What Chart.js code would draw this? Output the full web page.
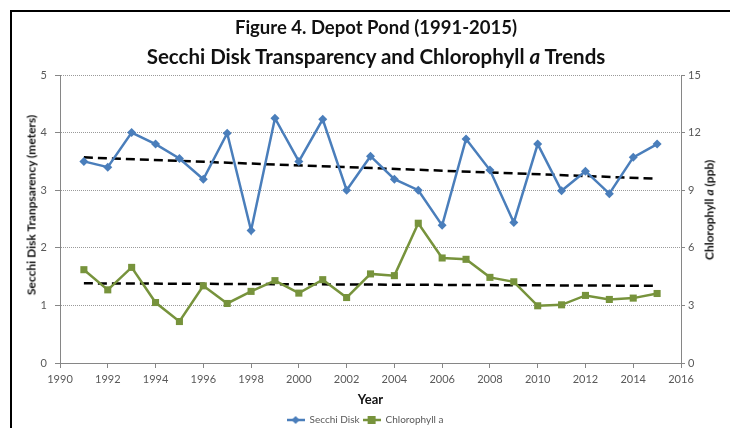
<!DOCTYPE html>
<html lang="en">
<head>
  <meta charset="UTF-8">
  <title>Depot Pond - Secchi and Chlorophyll a</title>
  <script src="https://cdn.jsdelivr.net/npm/chart.js"></script>
  <style>
    body { margin: 0; background: #fff; }
    #wrap { position: relative; width: 730px; height: 428px; font-family: Lato, "Open Sans", sans-serif; overflow: hidden; }
    #frame { position: absolute; left: 10px; top: 10px; right: -5px; bottom: -5px; border-top: 2px solid #000; border-left: 2px solid #000; }
    #title { position: absolute; top: 13px; left: 0; width: 752px; text-align: center; font-weight: bold; color: #111; }
    #title .l1 { display: block; font-size: 18.5px; line-height: 28px; }
    #title .l2 { display: block; font-size: 20.5px; line-height: 31px; }
    .vtitle { position: absolute; transform: translate(-50%, -50%) rotate(-90deg); white-space: nowrap; font-weight: bold; font-size: 12px; color: #111; }
    #ltitle { left: 31px; top: 205px; }
    #rtitle { left: 709px; top: 210px; }
    canvas { position: absolute; left: 0; top: 0; }
  </style>
</head>
<body>
  <div id="wrap">
    <div id="frame"></div>
    <canvas id="chart" width="730" height="428"></canvas>
    <div id="title"><span class="l1">Figure 4. Depot Pond (1991-2015)</span><span class="l2">Secchi Disk Transparency and Chlorophyll <i>a</i> Trends</span></div>
    <div class="vtitle" id="ltitle">Secchi Disk Tranpsarency (meters)</div>
    <div class="vtitle" id="rtitle">Chlorophyll <i>a</i> (ppb)</div>
  </div>

  <script>
    const years = [1991, 1992, 1993, 1994, 1995, 1996, 1997, 1998, 1999, 2000, 2001, 2002, 2003,
                   2004, 2005, 2006, 2007, 2008, 2009, 2010, 2011, 2012, 2013, 2014, 2015];
    const secchi = [3.50, 3.40, 4.00, 3.80, 3.55, 3.19, 3.99, 2.30, 4.25, 3.50, 4.23, 3.00, 3.59,
                    3.19, 3.00, 2.39, 3.89, 3.35, 2.44, 3.80, 2.99, 3.33, 2.94, 3.57, 3.80];
    const chlorophyll = [4.86, 3.81, 4.98, 3.15, 2.16, 4.02, 3.10, 3.73, 4.29, 3.64, 4.34, 3.41, 4.64,
                         4.55, 7.28, 5.47, 5.40, 4.46, 4.23, 2.98, 3.03, 3.52, 3.31, 3.38, 3.62];
    // trend lines, start and end values
    const trendYears = [1991, 2015];
    const secchiTrend = [3.57, 3.20];
    const chlTrend = [4.15, 4.02];

    const blue = '#4A7EBB';
    const green = '#77933C';
    const tickGray = '#595959';
    const axisGray = '#868686';

    Chart.defaults.font.family = 'Lato, "Open Sans", sans-serif';

    const pts = (xs, ys) => xs.map((x, i) => ({ x: x, y: ys[i] }));

    // little line+marker pictures for the legend
    function legendIcon(color, diamond) {
      const c = document.createElement('canvas');
      c.width = 18; c.height = 10;
      const g = c.getContext('2d');
      g.strokeStyle = color; g.fillStyle = color; g.lineWidth = 2.5;
      g.beginPath(); g.moveTo(0, 5); g.lineTo(18, 5); g.stroke();
      if (diamond) {
        g.beginPath(); g.moveTo(9, 1); g.lineTo(13, 5); g.lineTo(9, 9); g.lineTo(5, 5); g.closePath(); g.fill();
      } else {
        g.fillRect(5, 1, 8, 8);
      }
      return c;
    }
    const icons = [legendIcon(blue, true), legendIcon(green, false)];

    new Chart(document.getElementById('chart'), {
      type: 'line',
      data: {
        datasets: [
          {
            label: 'Secchi Disk',
            data: pts(years, secchi),
            yAxisID: 'y',
            borderColor: blue, backgroundColor: blue,
            borderWidth: 2.5, pointStyle: 'rectRot', pointRadius: 4.5, pointBorderWidth: 0
          },
          {
            label: 'Chlorophyll a',
            data: pts(years, chlorophyll),
            yAxisID: 'y2',
            borderColor: green, backgroundColor: green,
            borderWidth: 2.5, pointStyle: 'rect', pointRadius: 5, pointBorderWidth: 0
          },
          {
            label: 'Secchi trend',
            data: pts(trendYears, secchiTrend),
            yAxisID: 'y',
            borderColor: '#000', borderWidth: 2.5, borderDash: [9, 5], pointRadius: 0
          },
          {
            label: 'Chlorophyll trend',
            data: pts(trendYears, chlTrend),
            yAxisID: 'y2',
            borderColor: '#000', borderWidth: 2.5, borderDash: [9, 5], pointRadius: 0
          }
        ]
      },
      options: {
        responsive: false,
        animation: false,
        layout: { padding: { top: 75, left: 0, right: 0, bottom: -7 } },
        plugins: {
          title: { display: false },
          tooltip: { enabled: false },
          legend: {
            position: 'bottom',
            labels: {
              usePointStyle: true,
              pointStyleWidth: 18,
              boxHeight: 10,
              padding: 3,
              color: tickGray,
              font: { size: 10 },
              generateLabels: chart => Chart.defaults.plugins.legend.labels.generateLabels(chart)
                .filter(item => item.datasetIndex < 2)
                .map(item => Object.assign(item, { pointStyle: icons[item.datasetIndex] }))
            }
          }
        },
        scales: {
          x: {
            type: 'linear',
            min: 1990, max: 2016,
            ticks: { stepSize: 2, color: tickGray, font: { size: 11 }, padding: 5, callback: v => String(v) },
            grid: { drawOnChartArea: false, tickLength: 5, color: axisGray },
            border: { color: axisGray, width: 1 },
            title: { display: true, text: 'Year', color: '#111', font: { size: 13, weight: 'bold' }, padding: { top: 0, bottom: 4 } },
            afterFit: s => { s.height = 49; }
          },
          y: {
            position: 'left',
            min: 0, max: 5,
            ticks: { stepSize: 1, color: tickGray, font: { size: 11 }, padding: 8 },
            grid: { color: '#9a9a9a', tickColor: axisGray, tickLength: 5 },
            border: { color: axisGray, width: 1, dash: [1, 1] },
            afterFit: s => { s.width = 60; }
          },
          y2: {
            position: 'right',
            min: 0, max: 15,
            ticks: { stepSize: 3, color: tickGray, font: { size: 11 }, padding: 3 },
            grid: { drawOnChartArea: false, tickLength: 4, color: axisGray },
            border: { color: axisGray, width: 1 },
            afterFit: s => { s.width = 49; }
          }
        }
      }
    });
  </script>
</body>
</html>
